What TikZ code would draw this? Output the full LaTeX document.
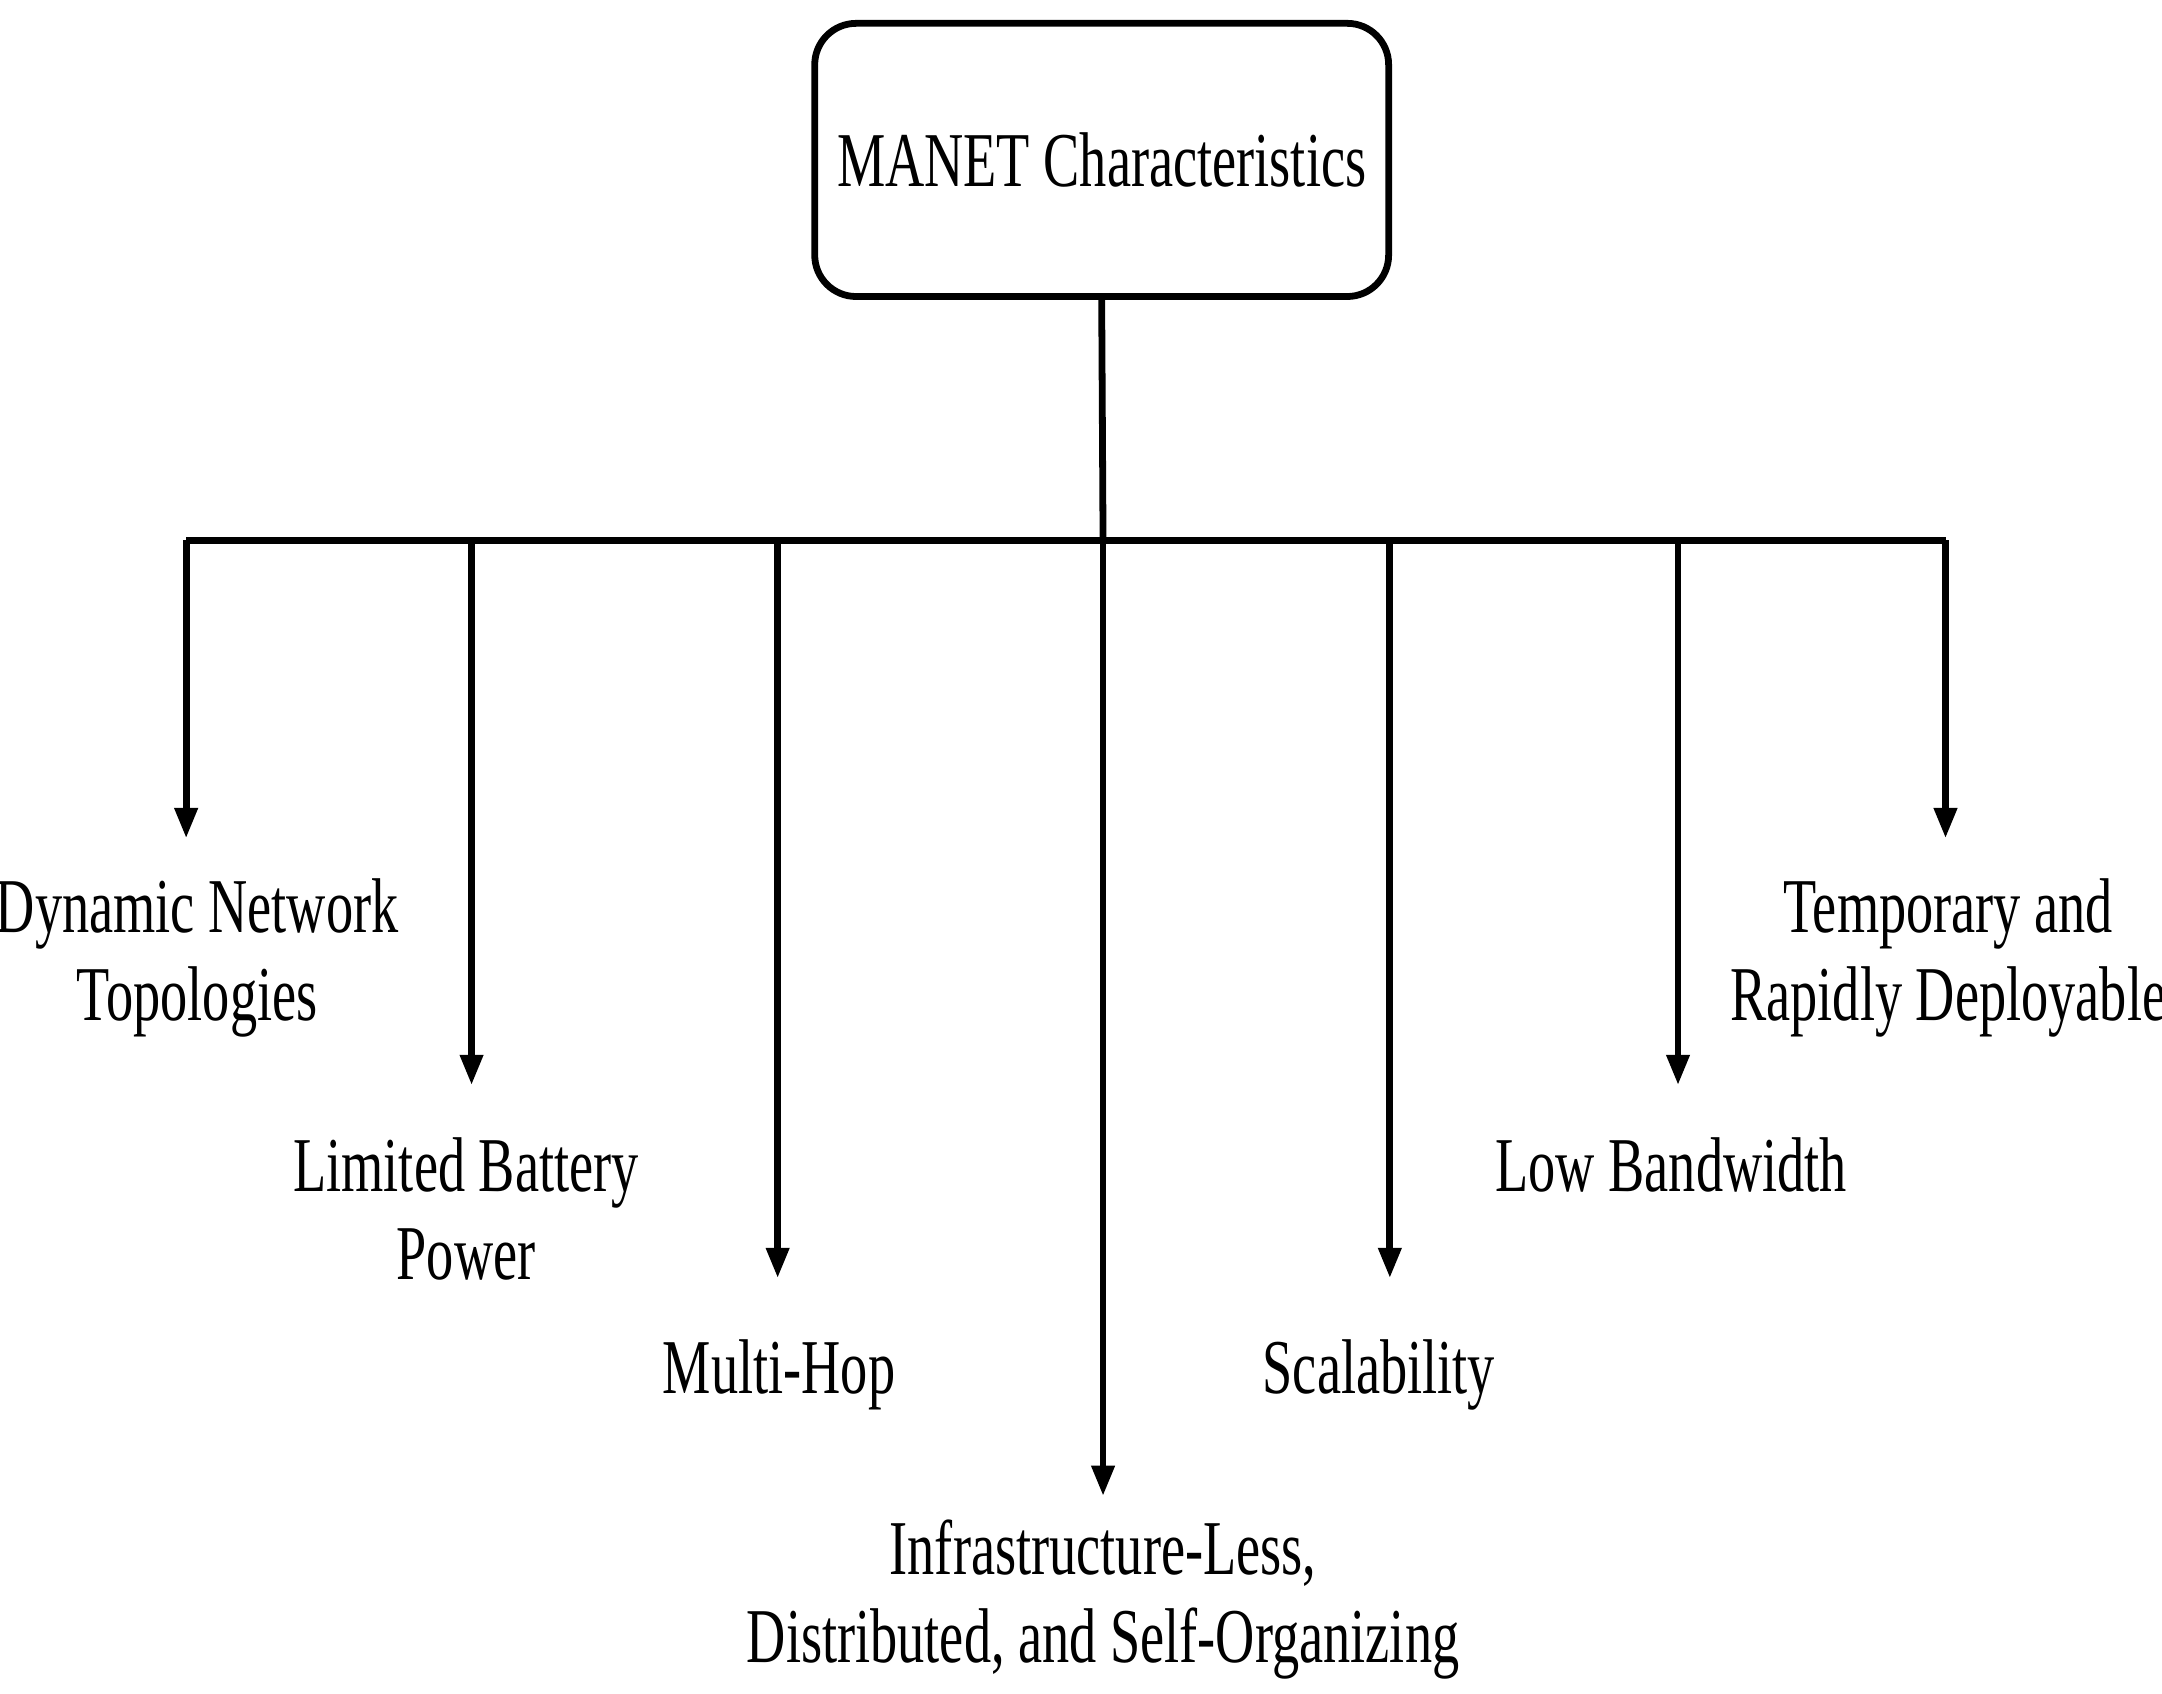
\documentclass[tikz,border=0pt]{standalone}
\usepackage{fontspec}
\setmainfont{Liberation Serif}[FakeStretch=0.7]
\usetikzlibrary{arrows.meta}

\begin{document}
\begin{tikzpicture}[x=0.01cm,y=-0.01cm,
    every node/.style={font=\fontsize{16pt}{18.2pt}\selectfont, align=center},
    root/.style={draw, line width=1.4pt, rounded corners=0.3cm, minimum width=4.16cm, minimum height=1.98cm},
    link/.style={line width=1.4pt},
    branch/.style={line width=1.4pt, -{Triangle[length=0.22cm,width=0.16cm]}}
  ]
  \useasboundingbox (0,0) rectangle (1568,1228);
  \node[root] (manet) at (799,116) {MANET Characteristics};
  \coordinate (hub) at (800,392);
  \coordinate (busl) at (135,392);
  \coordinate (busr) at (1411,392);
  \draw[link] (manet.south) -- (hub);
  \draw[link] (busl) -- (busr);
  % branch ends and labels
  \foreach \name/\x/\y/\lx/\ly/\txt in {
      dyn/135/608/143/695/{Dynamic Network\\Topologies},
      bat/342/787/338/877/{Limited Battery\\Power},
      hop/564/927/565/997/{Multi-Hop},
      inf/800/1085/800/1160/{Infrastructure-Less,\\Distributed, and Self-Organizing},
      sca/1008/927/1000/997/{Scalability},
      bw/1217/787/1212/845/{Low Bandwidth},
      tmp/1411/608/1413/695/{Temporary and\\Rapidly Deployable}} {
    \coordinate (\name top) at (\x,392);
    \coordinate (\name end) at (\x,\y);
    \node (\name) at (\lx,\ly) {\txt};
    \draw[branch] (\name top) -- (\name end);
  }
\end{tikzpicture}
\end{document}
